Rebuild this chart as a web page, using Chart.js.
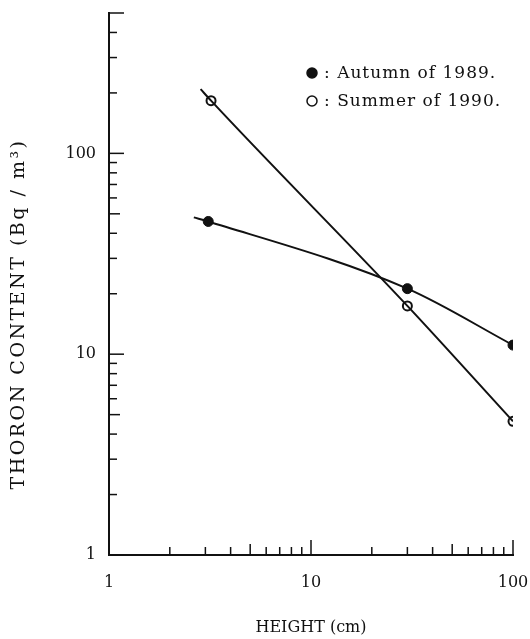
<!DOCTYPE html>
<html>
<head>
<meta charset="utf-8">
<script src="https://cdn.jsdelivr.net/npm/chart.js@4.4.0/dist/chart.umd.min.js"></script>
<style>
  body { margin: 0; background: #fff; }
  canvas { display: block; }
</style>
</head>
<body>
<canvas id="thoronChart" width="530" height="639"></canvas>
<script>
// valores
const autumnHeight = [3.1, 30, 100];
const autumnThoron = [45.8, 21.2, 11.1];
const summerHeight = [3.2, 30, 100];
const summerThoron = [183, 17.4, 4.63];
// las curvas ajustadas empiezan un poco antes del primer punto
const autumnCurveStart = [2.63, 48];
const summerCurveStart = [2.84, 209];

const xTickValues = [1, 2, 3, 4, 5, 6, 7, 8, 9, 10, 20, 30, 40, 50, 60, 70, 80, 90, 100];
const yTickValues = [1, 2, 3, 4, 5, 6, 7, 8, 9, 10, 20, 30, 40, 50, 60, 70, 80, 90, 100, 200, 300, 400, 500];
const tickLabels = ['1', '10', '100'];
const legendLabels = [': Autumn of 1989.', ': Summer of 1990.'];
const yTitle = 'THORON CONTENT (Bq / m³)';

const serif = 'DejaVu Serif';
const ink = '#111';

function toPoints(xs, ys) {
    return xs.map((x, i) => ({ x: x, y: ys[i] }));
}

function setTicks(values) {
    return function(scale) {
        scale.ticks = values.map(v => ({ value: v }));
    };
}

// marcas de los ejes hacia dentro, como en el original
const innerTicks = {
    id: 'innerTicks',
    afterDraw(chart) {
        const c = chart.ctx;
        const area = chart.chartArea;
        c.save();
        c.strokeStyle = ink;
        c.lineWidth = 1.5;
        const len = v => {
            const m = v / Math.pow(10, Math.floor(Math.log10(v) + 1e-9));
            if (Math.abs(m - 1) < 1e-6) return 15;
            if (Math.abs(m - 5) < 1e-6) return 11;
            return 8;
        };
        chart.scales.x.ticks.forEach(t => {
            const px = chart.scales.x.getPixelForValue(t.value);
            c.beginPath();
            c.moveTo(px, area.bottom);
            c.lineTo(px, area.bottom - len(t.value));
            c.stroke();
        });
        chart.scales.y.ticks.forEach(t => {
            const py = chart.scales.y.getPixelForValue(t.value);
            c.beginPath();
            c.moveTo(area.left, py);
            c.lineTo(area.left + (t.value === 500 ? 15 : len(t.value)), py);
            c.stroke();
        });
        c.restore();
    }
};

// titulo vertical, espaciado como en el original
const spacedYTitle = {
    id: 'spacedYTitle',
    afterDraw(chart) {
        const c = chart.ctx;
        c.save();
        c.translate(19, 314);
        c.rotate(-Math.PI / 2);
        c.font = '19px "' + serif + '"';
        c.letterSpacing = '2.5px';
        c.textAlign = 'center';
        c.textBaseline = 'middle';
        c.fillStyle = ink;
        c.fillText(yTitle, 0, 0);
        c.restore();
    }
};

// leyenda dibujada a mano: punto negro / punto blanco
const symbolLegend = {
    id: 'symbolLegend',
    afterDraw(chart) {
        const c = chart.ctx;
        const area = chart.chartArea;
        const x0 = area.right - 201;
        const rows = [area.top + 60, area.top + 88];
        c.save();
        c.font = '17px "' + serif + '"';
        c.letterSpacing = '1px';
        c.textBaseline = 'middle';
        rows.forEach((y, i) => {
            c.beginPath();
            c.arc(x0, y, 5, 0, Math.PI * 2);
            c.lineWidth = 1.5;
            c.strokeStyle = ink;
            c.fillStyle = i === 0 ? ink : '#fff';
            c.fill();
            c.stroke();
            c.fillStyle = ink;
            c.fillText(legendLabels[i], x0 + 12, y + 1);
        });
        c.restore();
    }
};

document.addEventListener('DOMContentLoaded', function() {
    const ctx = document.getElementById('thoronChart');

    new Chart(ctx, {
        type: 'scatter',
        data: {
            datasets: [
                {
                    label: 'Autumn curve',
                    data: toPoints([autumnCurveStart[0]].concat(autumnHeight), [autumnCurveStart[1]].concat(autumnThoron)),
                    showLine: true,
                    cubicInterpolationMode: 'monotone',
                    borderColor: ink,
                    borderWidth: 2,
                    pointRadius: 0
                },
                {
                    label: 'Summer curve',
                    data: toPoints([summerCurveStart[0]].concat(summerHeight), [summerCurveStart[1]].concat(summerThoron)),
                    showLine: true,
                    cubicInterpolationMode: 'monotone',
                    borderColor: ink,
                    borderWidth: 2,
                    pointRadius: 0
                },
                {
                    label: 'Autumn of 1989.',
                    data: toPoints(autumnHeight, autumnThoron),
                    pointRadius: 5,
                    pointBackgroundColor: ink,
                    pointBorderColor: ink,
                    pointBorderWidth: 1
                },
                {
                    label: 'Summer of 1990.',
                    data: toPoints(summerHeight, summerThoron),
                    pointRadius: 4.5,
                    pointBackgroundColor: '#fff',
                    pointBorderColor: ink,
                    pointBorderWidth: 2
                }
            ]
        },
        options: {
            responsive: false,
            animation: false,
            layout: { padding: { left: 8, right: 17, top: 13, bottom: 2 } },
            plugins: {
                legend: { display: false },
                tooltip: { enabled: false }
            },
            scales: {
                x: {
                    type: 'logarithmic',
                    min: 1,
                    max: 100,
                    afterBuildTicks: setTicks(xTickValues),
                    afterFit: function(scale) {
                        scale.height = 82;
                        scale.paddingLeft = 0;
                        scale.paddingRight = 0;
                    },
                    grid: { display: false, drawTicks: false },
                    border: { display: true, color: ink, width: 2 },
                    ticks: {
                        autoSkip: false,
                        maxRotation: 0,
                        padding: 18,
                        color: ink,
                        font: { family: serif, size: 16 },
                        callback: function(v) {
                            const s = String(v);
                            return tickLabels.includes(s) ? s : '';
                        }
                    },
                    title: {
                        display: true,
                        text: 'HEIGHT (cm)',
                        color: ink,
                        font: { family: serif, size: 16 },
                        padding: { top: 0, bottom: 0 }
                    }
                },
                y: {
                    type: 'logarithmic',
                    min: 1,
                    max: 500,
                    afterBuildTicks: setTicks(yTickValues),
                    afterFit: function(scale) {
                        scale.width = 101;
                        scale.paddingTop = 0;
                        scale.paddingBottom = 0;
                    },
                    grid: { display: false, drawTicks: false },
                    border: { display: true, color: ink, width: 2 },
                    ticks: {
                        autoSkip: false,
                        padding: 13,
                        color: ink,
                        font: { family: serif, size: 16 },
                        callback: function(v) {
                            const s = String(v);
                            return tickLabels.includes(s) ? s : '';
                        }
                    },
                    title: { display: false }
                }
            }
        },
        plugins: [innerTicks, spacedYTitle, symbolLegend]
    });
});
</script>
</body>
</html>
